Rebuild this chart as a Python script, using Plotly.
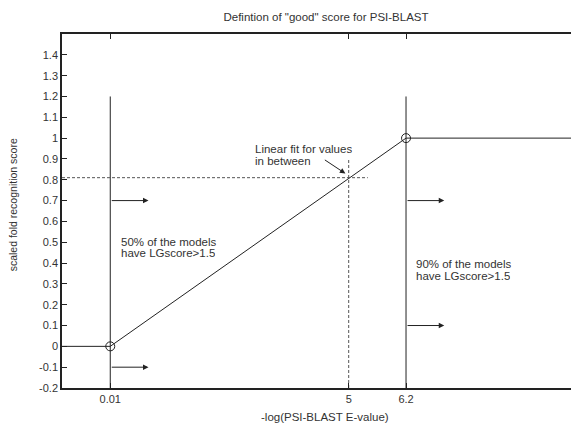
import plotly.graph_objects as go

# ---- data ----
cutoff_x = [0.01, 6.2]            # -log(E-value) cutoffs
cutoff_score = [0, 1]             # scores at the cutoffs
x_min, x_max = -1, 9.82
y_min, y_max = -0.2, 1.5
cutoff_line_top = 1.2
fit_point_x = 5
fit_point_y = 0.81
dash_h_end = 5.4
dash_v_top = 0.9
arrow_len = 0.8
left_arrow_y = [0.7, -0.1]
right_arrow_y = [0.7, 0.1]
x_tickvals = [0.01, 5, 6.2]
x_ticktext = ["0.01", "5", "6.2"]
y_tickvals = [-0.2, -0.1, 0, 0.1, 0.2, 0.3, 0.4, 0.5, 0.6, 0.7, 0.8, 0.9, 1, 1.1, 1.2, 1.3, 1.4]
y_ticktext = ["-0.2", "-0.1", "0", "0.1", "0.2", "0.3", "0.4", "0.5", "0.6", "0.7", "0.8", "0.9", "1", "1.1", "1.2", "1.3", "1.4"]
label_fit = ["Linear fit for values", "in between"]
label_left = ["50% of the models", "have LGscore>1.5"]
label_right = ["90% of the models", "have LGscore>1.5"]

LC = "#222222"
TC = "#333333"
FONT = "Liberation Sans, Arial, sans-serif"
TS = 11.5

fig = go.Figure()

def seg(xs, ys, dash="solid", color=LC):
    fig.add_trace(go.Scatter(x=xs, y=ys, mode="lines",
                             line=dict(color=color, width=1, dash=dash),
                             showlegend=False, hoverinfo="skip"))

# step-linear score function
seg([x_min, cutoff_x[0]], [cutoff_score[0], cutoff_score[0]])
seg(cutoff_x, cutoff_score)
seg([cutoff_x[1], x_max], [cutoff_score[1], cutoff_score[1]])
# vertical cutoff lines
seg([cutoff_x[0], cutoff_x[0]], [y_min, cutoff_line_top])
seg([cutoff_x[1], cutoff_x[1]], [y_min, cutoff_line_top])
# dashed guides
seg([x_min, dash_h_end], [fit_point_y, fit_point_y], dash="3px,2px", color="#555555")
seg([fit_point_x, fit_point_x], [y_min, dash_v_top], dash="3px,2px", color="#555555")
# circle markers
fig.add_trace(go.Scatter(x=cutoff_x, y=cutoff_score, mode="markers",
                         marker=dict(symbol="circle-open", size=9, color=LC, line=dict(width=1)),
                         showlegend=False, hoverinfo="skip"))

anns = []
def arrow(x0, y0, x1, y1):
    anns.append(dict(x=x1, y=y1, ax=x0, ay=y0,
                     xref="x", yref="y", axref="x", ayref="y", text="",
                     showarrow=True, arrowhead=2, arrowsize=1.1, arrowwidth=1, arrowcolor=LC))

for yv in left_arrow_y:
    arrow(cutoff_x[0], yv, cutoff_x[0] + arrow_len, yv)
for yv in right_arrow_y:
    arrow(cutoff_x[1], yv, cutoff_x[1] + arrow_len, yv)
# pointer to fit point
arrow(4.47, 0.9, 4.93, 0.83)

def text_lines(x, ys, lines):
    for yy, t in zip(ys, lines):
        anns.append(dict(x=x, y=yy, xref="x", yref="y", xanchor="left", yanchor="middle",
                         height=10, valign="middle",
                         text=t, showarrow=False, font=dict(size=TS, color=TC, family=FONT)))

text_lines(2.995, [0.947, 0.891], label_fit)
text_lines(0.19, [0.502, 0.449], label_left)
text_lines(6.37, [0.394, 0.340], label_right)

# axis titles
anns.append(dict(x=0.509, y=0, xref="paper", yref="paper", yshift=-28.5,
                 xanchor="center", yanchor="middle", showarrow=False,
                 text="-log(PSI-BLAST E-value)", font=dict(size=TS, color=TC, family=FONT)))
anns.append(dict(x=0, y=0.516, xref="paper", yref="paper", xshift=-49,
                 xanchor="center", yanchor="middle", showarrow=False, textangle=-90,
                 text="scaled fold recognition score", font=dict(size=10.5, color=TC, family=FONT)))

fig.update_layout(
    width=571, height=415,
    margin=dict(l=54, r=0, t=26, b=35),
    paper_bgcolor="white", plot_bgcolor="white",
    font=dict(family=FONT, size=11, color=TC),
    title=dict(text='Defintion of "good" score for PSI-BLAST', x=318 / 571, xanchor="center",
               y=1 - 9 / 415, yanchor="middle", font=dict(size=TS, color=TC)),
    annotations=anns,
    xaxis=dict(range=[x_min, x_max], tickvals=x_tickvals, ticktext=x_ticktext,
               ticks="inside", ticklen=5, tickcolor=LC, showgrid=False, zeroline=False,
               showline=True, linecolor=LC, linewidth=1.5, mirror="ticks"),
    yaxis=dict(range=[y_min, y_max], tickvals=y_tickvals, ticktext=y_ticktext,
               ticks="inside", ticklen=5, tickcolor=LC, showgrid=False, zeroline=False,
               showline=True, linecolor=LC, linewidth=1.5, mirror=False),
)

fig.write_html("out.html")
